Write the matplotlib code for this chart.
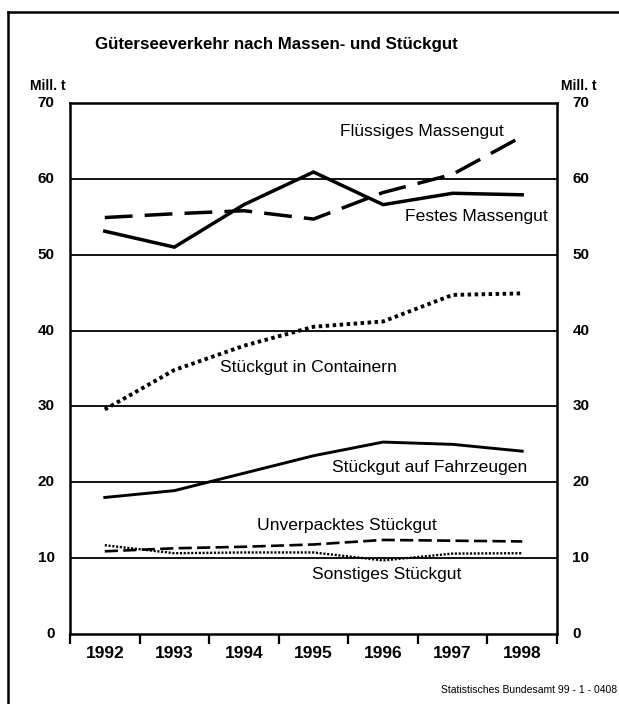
import matplotlib
matplotlib.use("Agg")
import matplotlib.pyplot as plt
from matplotlib.lines import Line2D

plt.rcParams['font.family'] = ['Liberation Sans', 'DejaVu Sans']

years = ["1992", "1993", "1994", "1995", "1996", "1997", "1998"]
festes = [53.1, 51.0, 56.6, 60.9, 56.6, 58.1, 57.9]
fluessiges = [54.9, 55.4, 55.8, 54.7, 58.2, 60.6, 65.6]
container = [29.6, 34.8, 38.0, 40.5, 41.2, 44.7, 44.9]
fahrzeuge = [18.0, 18.9, 21.2, 23.5, 25.3, 25.0, 24.1]
unverpackt = [10.9, 11.3, 11.5, 11.8, 12.4, 12.3, 12.2]
sonstiges = [11.7, 10.65, 10.75, 10.75, 9.7, 10.6, 10.65]
yticks = [0, 10, 20, 30, 40, 50, 60, 70]

W, H = 619, 704
fig = plt.figure(figsize=(W / 100, H / 100), dpi=100)

def fx(px):
    return px / W

def fy(py):
    return 1 - py / H

ax = fig.add_axes([fx(70), fy(634), fx(557) - fx(70), fy(103) - fy(634)])
x = list(range(len(years)))

ax.plot(x, festes, color='black', lw=2.5, solid_joinstyle='miter')
ax.plot(x, fluessiges, color='black', lw=2.5, linestyle=(0, (8, 3.5)))
ax.plot(x, container, color='black', lw=2.8, linestyle=(0, (0.9, 0.9)))
ax.plot(x, fahrzeuge, color='black', lw=2.1)
ax.plot(x, unverpackt, color='black', lw=1.9, linestyle=(0, (5, 2)))
ax.plot(x, sonstiges, color='black', lw=1.7, linestyle=(0, (0.9, 0.7)))

for v in yticks[1:-1]:
    ax.axhline(v, color='black', lw=1.3, zorder=0)

ax.set_xlim(-0.5, 6.5)
ax.set_ylim(0, 70)
for s in ax.spines.values():
    s.set_linewidth(1.8)

ax.set_yticks([])
ax.set_xticks([i - 0.5 for i in range(len(years) + 1)])
ax.set_xticklabels([])
ax.tick_params(axis='x', length=7, width=1.6, direction='out')

for i, yr in enumerate(years):
    ax.text(i, -2.6, yr, ha='center', va='center', fontsize=12.5,
            fontweight='bold')

for v in yticks:
    ax.text(-0.72, v, str(v), ha='right', va='center', fontsize=11,
            fontweight='bold')
    ax.text(6.72, v, str(v), ha='left', va='center', fontsize=11,
            fontweight='bold')

lab_kw = dict(fontsize=12.6, ha='left', va='center')
ax.text(3.38, 66.2, "Flüssiges Massengut", **lab_kw)
ax.text(4.32, 55.05, "Festes Massengut", **lab_kw)
ax.text(1.65, 35.1, "Stückgut in Containern", **lab_kw)
ax.text(3.27, 22.0, "Stückgut auf Fahrzeugen", **lab_kw)
ax.text(2.19, 14.25, "Unverpacktes Stückgut", **lab_kw)
ax.text(2.98, 7.9, "Sonstiges Stückgut", **lab_kw)

fig.text(fx(276), fy(45), "Güterseeverkehr nach Massen- und Stückgut",
         ha='center', va='center', fontsize=12.2, fontweight='bold')
fig.text(fx(30), fy(86), "Mill. t", ha='left', va='center', fontsize=10,
         fontweight='bold')
fig.text(fx(597), fy(86), "Mill. t", ha='right', va='center', fontsize=10,
         fontweight='bold')
fig.text(fx(617), fy(690), "Statistisches Bundesamt 99 - 1 - 0408",
         ha='right', va='center', fontsize=7.5)

# outer frame
fig.add_artist(Line2D([fx(8), fx(8)], [fy(12), 0], color='black', lw=1.8,
                      transform=fig.transFigure))
fig.add_artist(Line2D([fx(8), 1], [fy(12), fy(12)], color='black', lw=1.8,
                      transform=fig.transFigure))

fig.savefig("out.png", dpi=100)
